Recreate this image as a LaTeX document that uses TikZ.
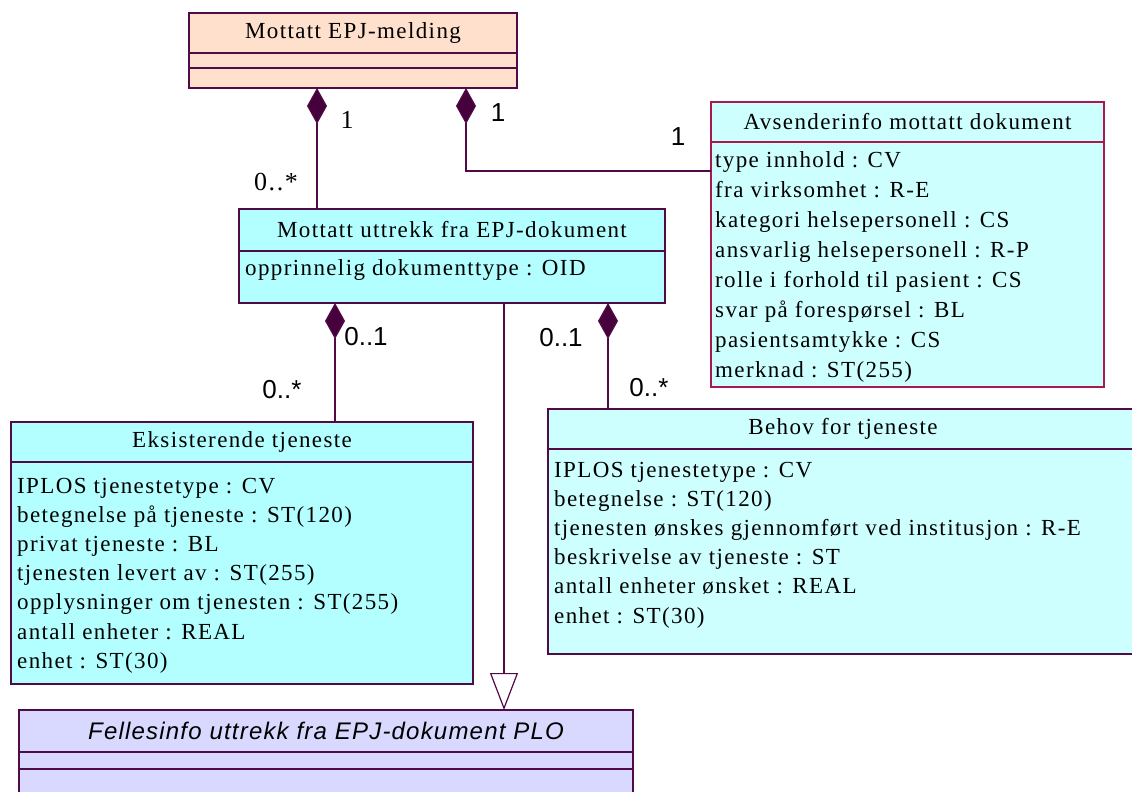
\documentclass[tikz,border=0pt]{standalone}
\usepackage{fontspec}
\usetikzlibrary{arrows.meta,calc,positioning}

\newfontfamily\umlserif{Liberation Serif}[LetterSpace=6]
\newfontfamily\umlsans{Liberation Sans}
\newfontfamily\umlsanssp{Liberation Sans}[LetterSpace=5]

\definecolor{umlline}{RGB}{80,10,70}
\definecolor{avsline}{RGB}{170,25,75}
\definecolor{diamondfill}{RGB}{70,0,60}
\definecolor{peach}{RGB}{255,224,204}
\definecolor{cyanA}{RGB}{179,255,255}
\definecolor{cyanB}{RGB}{206,255,255}
\definecolor{lavender}{RGB}{217,217,255}

\tikzset{
  classhead/.style={draw=umlline, line width=1.2pt, anchor=north west, inner sep=0pt, outer sep=0pt,
    font=\umlserif\fontsize{23}{29}\selectfont},
  classpart/.style={draw=umlline, line width=1.2pt, anchor=north west, inner sep=0pt, outer sep=0pt},
  attr/.style={anchor=base west, inner sep=0pt, font=\umlserif\fontsize{23}{29}\selectfont},
  mult/.style={inner sep=0pt, font=\umlsans\fontsize{26}{26}\selectfont},
  multserif/.style={inner sep=0pt, font=\umlserif\fontsize{26}{26}\selectfont},
  comp/.style={draw=umlline, line width=1.2pt, {Diamond[length=36pt,width=20pt,fill=diamondfill]}-},
  gen/.style={draw=umlline, line width=1.2pt, -{Triangle[open,length=37pt,width=28pt,fill=white]}}
}

\begin{document}
\begin{tikzpicture}[x=1pt,y=-1pt]
          \useasboundingbox (0,0) rectangle (1132,792);
          % classes
          \node[classhead, fill=peach, minimum width=328pt, minimum height=40pt] (mel) at (189,13) {Mottatt EPJ-melding};
          \node[classpart, fill=peach, minimum width=328pt, minimum height=15pt] (melA) at (mel.south west) {};
          \node[classpart, fill=peach, minimum width=328pt, minimum height=20pt] (melB) at (melA.south west) {};
          \node[classhead, draw=avsline, fill=cyanB, minimum width=393pt, minimum height=40pt] (avs) at (711,102) {Avsenderinfo mottatt dokument};
          \node[classpart, draw=avsline, fill=cyanB, minimum width=393pt, minimum height=245pt] (avsA) at (avs.south west) {};
          \node[classhead, fill=cyanA, minimum width=426pt, minimum height=42pt] (mid) at (239,209) {Mottatt uttrekk fra EPJ-dokument};
          \node[classpart, fill=cyanA, minimum width=426pt, minimum height=52pt] (midA) at (mid.south west) {};
          \node[classhead, fill=cyanA, minimum width=462pt, minimum height=40pt] (eks) at (11,422) {Eksisterende tjeneste};
          \node[classpart, fill=cyanA, minimum width=462pt, minimum height=222pt] (eksA) at (eks.south west) {};
          \node[classhead, fill=cyanB, minimum width=590pt, minimum height=40pt] (beh) at (548,409) {Behov for tjeneste};
          \node[classpart, fill=cyanB, minimum width=590pt, minimum height=205pt] (behA) at (beh.south west) {};
          \node[classhead, fill=lavender, minimum width=614pt, minimum height=42pt,
            font=\umlsanssp\itshape\fontsize{24}{29}\selectfont] (fel) at (19,710) {Fellesinfo uttrekk fra EPJ-dokument PLO};
          \node[classpart, fill=lavender, minimum width=614pt, minimum height=17pt] (felA) at (fel.south west) {};
          \node[classpart, fill=lavender, minimum width=614pt, minimum height=60pt] (felB) at (felA.south west) {};
          % attributes
          \foreach \txt [count=\i] in {type innhold : CV, fra virksomhet : R-E, kategori helsepersonell : CS,
              ansvarlig helsepersonell : R-P, rolle i forhold til pasient : CS, svar på forespørsel : BL,
              pasientsamtykke : CS, merknad : ST(255)}{
            \node[attr] (avs-\i) at ($(avsA.north west)+(4,{25+30*(\i-1)})$) {\txt};}
          \node[attr] (mid-1) at ($(midA.north west)+(6,24)$) {opprinnelig dokumenttype : OID};
          \foreach \txt [count=\i] in {IPLOS tjenestetype : CV, betegnelse på tjeneste : ST(120), privat tjeneste : BL,
              tjenesten levert av : ST(255), opplysninger om tjenesten : ST(255), antall enheter : REAL, enhet : ST(30)}{
            \node[attr] (eks-\i) at ($(eksA.north west)+(6,{31+29.2*(\i-1)})$) {\txt};}
          \foreach \txt [count=\i] in {IPLOS tjenestetype : CV, betegnelse : ST(120),
              tjenesten ønskes gjennomført ved institusjon : R-E, beskrivelse av tjeneste : ST,
              antall enheter ønsket : REAL, enhet : ST(30)}{
            \node[attr] (beh-\i) at ($(behA.north west)+(6,{28+29.2*(\i-1)})$) {\txt};}
          % associations
          \draw[comp] ([xshift=128pt]melB.south west) -- ([xshift=78pt]mid.north west);
          \draw[comp] ([xshift=277pt]melB.south west) |- ([yshift=-29pt]avsA.north west);
          \draw[comp] ([xshift=96pt]midA.south west) -- ([xshift=324pt]eks.north west);
          \draw[comp] ([xshift=369pt]midA.south west) -- ([xshift=60pt]beh.north west);
          \draw[gen] ([xshift=265pt]midA.south west) -- ([xshift=485pt]fel.north west);
          % multiplicities
          \node[multserif] (m-mel-mid) at (347,120) {1};
          \node[multserif] (m-mid-mel) at (276,182) {0..*};
          \node[mult] (m-mel-avs) at (498,113) {1};
          \node[mult] (m-avs-mel) at (678,137) {1};
          \node[mult] (m-mid-eks) at (366,337) {0..1};
          \node[mult] (m-eks-mid) at (282,390) {0..*};
          \node[mult] (m-mid-beh) at (561,338) {0..1};
          \node[mult] (m-beh-mid) at (649,388) {0..*};
        \end{tikzpicture}
\end{document}
